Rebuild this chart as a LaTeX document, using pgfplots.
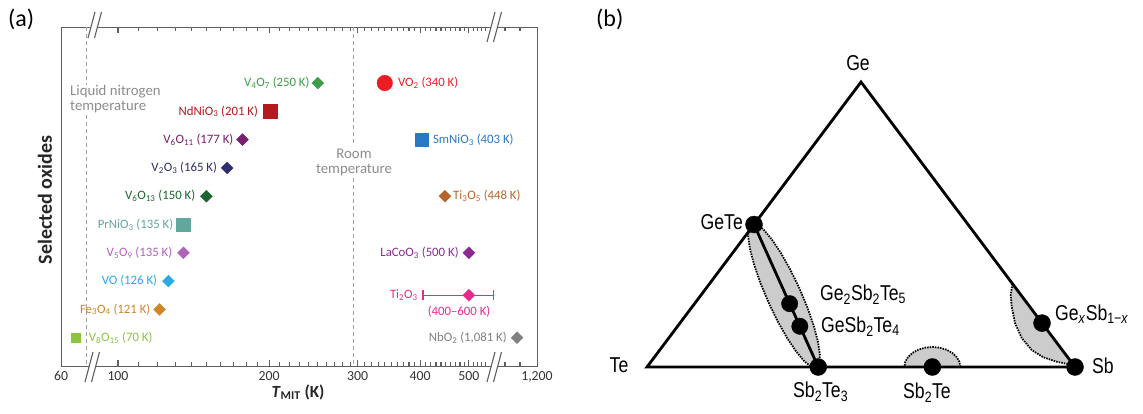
\documentclass[border=0pt]{standalone}
\usepackage{pgfplots}
\pgfplotsset{compat=1.18}
\usepackage{fontspec}
\setmainfont{Carlito}
\newfontfamily\bfont[FakeStretch=0.82]{Liberation Sans}
\definecolor{cV4O7}{RGB}{60,158,70}
\definecolor{cNd}{RGB}{178,26,30}
\definecolor{cV6O11}{RGB}{120,30,110}
\definecolor{cV2O3}{RGB}{45,45,110}
\definecolor{cV6O13}{RGB}{30,100,50}
\definecolor{cPr}{RGB}{95,168,155}
\definecolor{cV5O9}{RGB}{175,100,185}
\definecolor{cVO}{RGB}{40,170,230}
\definecolor{cFe}{RGB}{205,135,40}
\definecolor{cV8}{RGB}{140,195,65}
\definecolor{cVO2}{RGB}{237,28,36}
\definecolor{cSm}{RGB}{40,120,195}
\definecolor{cTi3}{RGB}{185,100,40}
\definecolor{cLa}{RGB}{140,40,150}
\definecolor{cTi2}{RGB}{236,40,140}
\definecolor{cNb}{RGB}{128,128,128}
\definecolor{axgray}{RGB}{95,95,95}
\definecolor{txgray}{RGB}{140,140,140}
\definecolor{shade}{RGB}{204,204,204}
\newcommand{\lab}{\fontsize{12.8}{14}\selectfont}
\newcommand{\bl}{\bfont\fontsize{21.5}{24}\selectfont}
\begin{document}
\begin{tikzpicture}
\path[use as bounding box] (0pt,0pt) rectangle (1143pt,-414pt);
% ---------------- panel (a) ----------------
\begin{axis}[
  at={(61pt,-366pt)}, anchor=south west,
  scale only axis, width=476pt, height=339pt,
  x coord trafo/.code={\pgfmathparse{(#1<82) ? (1.88645+(#1-60)*0.002928) : ((#1>800) ? (2.83466+(#1-1200)*0.0003347) : (log10(#1)))}},
  xmin=60, xmax=1200, ymin=-0.979, ymax=11.0, y dir=reverse,
  xtick={60,100,200,300,400,500,1200},
  xticklabels={60,100,200,300,400,500,{1,200}},
  ytick=\empty,
  xtick style={draw=none},
  axis line style={axgray, line width=1pt},
  xticklabel style={font=\fontsize{13.8}{15}\selectfont, text=black!80, inner sep=0pt, yshift=-5pt},
  clip=false,
]
% reference lines
\draw[txgray!80, line width=0.8pt, dash pattern=on 4pt off 3pt] (axis cs:77,-0.979) -- (axis cs:77,1.07);
\draw[txgray!80, line width=0.8pt, dash pattern=on 4pt off 3pt] (axis cs:77,2.13) -- (axis cs:77,11);
\draw[txgray!80, line width=0.8pt, dash pattern=on 4pt off 3pt] (axis cs:295,-0.979) -- (axis cs:295,3.19);
\draw[txgray!80, line width=0.8pt, dash pattern=on 4pt off 3pt] (axis cs:295,4.35) -- (axis cs:295,11);
% Ti2O3 range
\addplot[draw=cTi2, line width=1.2pt, mark=none] coordinates {(405,8.5) (560,8.5)};
\addplot[only marks, mark=|, mark size=5pt, mark options={draw=cTi2, line width=1.2pt}] coordinates {(405,8.5) (560,8.5)};
% diamonds
\addplot[only marks, mark=square*, mark size=4.2pt, mark options={rotate=45}, color=cV4O7] coordinates {(250,1)};
\addplot[only marks, mark=square*, mark size=4.2pt, mark options={rotate=45}, color=cV6O11] coordinates {(177,3)};
\addplot[only marks, mark=square*, mark size=4.2pt, mark options={rotate=45}, color=cV2O3] coordinates {(165,4)};
\addplot[only marks, mark=square*, mark size=4.2pt, mark options={rotate=45}, color=cV6O13] coordinates {(150,5)};
\addplot[only marks, mark=square*, mark size=4.2pt, mark options={rotate=45}, color=cTi3] coordinates {(448,5)};
\addplot[only marks, mark=square*, mark size=4.2pt, mark options={rotate=45}, color=cV5O9] coordinates {(135,7)};
\addplot[only marks, mark=square*, mark size=4.2pt, mark options={rotate=45}, color=cLa] coordinates {(500,7)};
\addplot[only marks, mark=square*, mark size=4.2pt, mark options={rotate=45}, color=cVO] coordinates {(126,8)};
\addplot[only marks, mark=square*, mark size=4.2pt, mark options={rotate=45}, color=cTi2] coordinates {(500,8.5)};
\addplot[only marks, mark=square*, mark size=4.2pt, mark options={rotate=45}, color=cFe] coordinates {(121,9)};
\addplot[only marks, mark=square*, mark size=4.2pt, mark options={rotate=45}, color=cNb] coordinates {(1081,10)};
% squares
\addplot[only marks, mark=square*, mark size=7pt, color=cNd] coordinates {(201,2)};
\addplot[only marks, mark=square*, mark size=6.8pt, color=cSm] coordinates {(403,3)};
\addplot[only marks, mark=square*, mark size=6.8pt, color=cPr] coordinates {(135,6)};
\addplot[only marks, mark=square*, mark size=4.7pt, color=cV8] coordinates {(70,10)};
% circle
\addplot[only marks, mark=*, mark size=7.8pt, color=cVO2] coordinates {(340,1)};
% labels
\begin{scope}[every node/.style={font=\lab, inner sep=0pt}]
\node[anchor=east, text=cV4O7, xshift=-8pt] at (axis cs:250,1) {V\textsubscript{4}O\textsubscript{7} (250 K)};
\node[anchor=west, text=cVO2, xshift=13pt] at (axis cs:340,1) {VO\textsubscript{2} (340 K)};
\node[anchor=east, text=cNd, xshift=-12pt] at (axis cs:201,2) {NdNiO\textsubscript{3} (201 K)};
\node[anchor=east, text=cV6O11, xshift=-9pt] at (axis cs:177,3) {V\textsubscript{6}O\textsubscript{11} (177 K)};
\node[anchor=west, text=cSm, xshift=11pt] at (axis cs:403,3) {SmNiO\textsubscript{3} (403 K)};
\node[anchor=east, text=cV2O3, xshift=-10pt] at (axis cs:165,4) {V\textsubscript{2}O\textsubscript{3} (165 K)};
\node[anchor=east, text=cV6O13, xshift=-11pt] at (axis cs:150,5) {V\textsubscript{6}O\textsubscript{13} (150 K)};
\node[anchor=west, text=cTi3, xshift=8pt] at (axis cs:448,5) {Ti\textsubscript{3}O\textsubscript{5} (448 K)};
\node[anchor=east, text=cPr, xshift=-10pt] at (axis cs:135,6) {PrNiO\textsubscript{3} (135 K)};
\node[anchor=east, text=cV5O9, xshift=-11pt] at (axis cs:135,7) {V\textsubscript{5}O\textsubscript{9} (135 K)};
\node[anchor=east, text=cLa, xshift=-10pt] at (axis cs:500,7) {LaCoO\textsubscript{3} (500 K)};
\node[anchor=east, text=cVO, xshift=-11pt] at (axis cs:126,8) {VO (126 K)};
\node[anchor=east, text=cTi2, xshift=-5pt] at (axis cs:405,8.5) {Ti\textsubscript{2}O\textsubscript{3}};
\node[text=cTi2] at (axis cs:478,9.09) {(400–600 K)};
\node[anchor=east, text=cFe, xshift=-9pt] at (axis cs:121,9) {Fe\textsubscript{3}O\textsubscript{4} (121 K)};
\node[anchor=east, text=cNb, xshift=-10pt] at (axis cs:1081,10) {NbO\textsubscript{2} (1,081 K)};
\node[anchor=west, text=cV8, xshift=13pt] at (axis cs:70,10) {V\textsubscript{8}O\textsubscript{15} (70 K)};
\end{scope}
\end{axis}
% ---------------- panel (b) ----------------
\begin{axis}[
  at={(647pt,-367pt)}, anchor=south west,
  scale only axis, width=428pt, height=285pt,
  xmin=0, xmax=1, ymin=0, ymax=1, hide axis, clip=false,
]
% GeTe--Sb2Te3 region
\addplot[fill=shade, draw=black, line width=1.8pt, dash pattern=on 1.5pt off 1.1pt] coordinates {
(0.3960,-0.0016) (0.4027,0.0133) (0.4039,0.0445) (0.3993,0.0896) (0.3894,0.1458) (0.3747,0.2092)
(0.3563,0.2754) (0.3354,0.3399) (0.3135,0.3984) (0.2920,0.4468) (0.2725,0.4819) (0.2562,0.5012)
(0.2442,0.5034) (0.2375,0.4885) (0.2363,0.4573) (0.2409,0.4121) (0.2508,0.3559) (0.2655,0.2926)
(0.2839,0.2264) (0.3048,0.1618) (0.3267,0.1034) (0.3482,0.0550) (0.3677,0.0199) (0.3840,0.0006)} -- cycle;
% Sb2Te region
\addplot[fill=shade, draw=none] coordinates {
(0.7321,0) (0.7299,0.0182) (0.7233,0.0351) (0.7129,0.0496) (0.6994,0.0608) (0.6836,0.0678) (0.6667,0.0702)
(0.6498,0.0678) (0.6340,0.0608) (0.6205,0.0496) (0.6101,0.0351) (0.6035,0.0182) (0.6013,0)} -- cycle;
\addplot[draw=black, line width=1.8pt, dash pattern=on 1.5pt off 1.1pt] coordinates {
(0.7321,0) (0.7299,0.0182) (0.7233,0.0351) (0.7129,0.0496) (0.6994,0.0608) (0.6836,0.0678) (0.6667,0.0702)
(0.6498,0.0678) (0.6340,0.0608) (0.6205,0.0496) (0.6101,0.0351) (0.6035,0.0182) (0.6013,0)};
% GexSb1-x region
\addplot[fill=shade, draw=none] coordinates {
(0.8537,0.2912) (0.8498,0.2526) (0.8521,0.2116) (0.8598,0.1544) (0.8755,0.1018) (0.8988,0.0596)
(0.9259,0.0340) (0.9572,0.0186) (0.9883,0.0088) (1,0)} -- cycle;
\addplot[draw=black, line width=1.8pt, dash pattern=on 1.5pt off 1.1pt] coordinates {
(0.8537,0.2912) (0.8498,0.2526) (0.8521,0.2116) (0.8598,0.1544) (0.8755,0.1018) (0.8988,0.0596)
(0.9259,0.0340) (0.9572,0.0186) (0.9883,0.0088) (1,0)};
% triangle and tie line
\addplot[black, line width=2.8pt, line join=miter] coordinates {(0,0) (1,0) (0.5,1)} -- cycle;
\addplot[black, line width=2.8pt] coordinates {(0.25,0.5) (0.4,0)};
% compositions
\addplot[only marks, mark=*, mark size=8.5pt, black] coordinates {(0.25,0.5) (0.4,0) (0.6667,0) (1,0) (0.923,0.154)};
\addplot[only marks, mark=*, mark size=8.2pt, black] coordinates {(0.3333,0.2222) (0.3571,0.1429)};
\end{axis}
% ---------------- decorations in pixel units ----------------
\begin{scope}[x=1pt, y=-1pt]
% x-axis ticks, inside, top and bottom (positions of 110..540 K, 1000, 1100 K on the broken log scale)
\foreach \px in {138.8,157.7,175.2,191.4,206.4,220.5,233.7,246.1,257.9,279.8,289.9,299.6,308.9,317.8,326.3,334.5,342.5,350.1,364.7,371.6,378.3,384.8,391.1,397.3,403.2,409.0,414.7,425.6,430.9,436.0,441.0,445.9,450.7,455.4,460.0,464.5,473.2,477.4,481.6,485.7,505,520}{
  \draw[axgray, line width=1.1pt] (\px,366) -- (\px,361.5);
  \draw[axgray, line width=1.1pt] (\px,27) -- (\px,31.5);
}
\foreach \px in {118,269.1,357.5,420.2,468.9}{
  \draw[axgray, line width=1.1pt] (\px,366) -- (\px,359.5);
  \draw[axgray, line width=1.1pt] (\px,27) -- (\px,33.5);
}
% axis breaks
\foreach \xa/\ya/\xb/\yb in {88/38/95/12, 85/382/93/352, 487/42/495/12, 487/382/495/352}{
  \fill[white] (\xa,\ya) -- (\xb,\yb) -- (\xb+6.5,\yb) -- (\xa+6.5,\ya) -- cycle;
  \draw[axgray, line width=1.1pt] (\xa,\ya) -- (\xb,\yb) (\xa+6.5,\ya) -- (\xb+6.5,\yb);
}
% texts panel (a)
\node[anchor=north west, inner sep=0pt, font=\fontsize{24}{26}\selectfont] at (8,9) {(a)};
\node[anchor=north west, inner sep=0pt, font=\fontsize{24}{26}\selectfont] at (596,9) {(b)};
\node[rotate=90, font=\bfseries\fontsize{20}{22}\selectfont, text=black!85] at (45,200) {Selected oxides};
\node[font=\bfseries\fontsize{17}{19}\selectfont, text=black!85] at (298,392) {\textit{T}\textsubscript{MIT} (K)};
\node[anchor=west, align=left, inner sep=0pt, text=txgray, font=\fontsize{14.8}{15}\selectfont] at (70,99) {Liquid nitrogen\\temperature};
\node[align=center, inner sep=0pt, text=txgray, font=\fontsize{14.8}{15}\selectfont] at (354,162) {Room\\temperature};
% texts panel (b)
\begin{scope}[every node/.style={font=\bl, inner sep=0pt}]
\node at (858,63) {Ge};
\node[anchor=east] at (743,222) {GeTe};
\node at (619,365) {Te};
\node[anchor=north west] at (793,382) {Sb\textsubscript{2}Te\textsubscript{3}};
\node[anchor=north west] at (820,285) {Ge\textsubscript{2}Sb\textsubscript{2}Te\textsubscript{5}};
\node[anchor=north west] at (821,317) {GeSb\textsubscript{2}Te\textsubscript{4}};
\node[anchor=north west] at (903,383) {Sb\textsubscript{2}Te};
\node[anchor=north west] at (1055,305) {Ge\textsubscript{\textit{x}}Sb\textsubscript{1−\textit{x}}};
\node[anchor=west] at (1092,366) {Sb};
\end{scope}
\end{scope}
\end{tikzpicture}
\end{document}
